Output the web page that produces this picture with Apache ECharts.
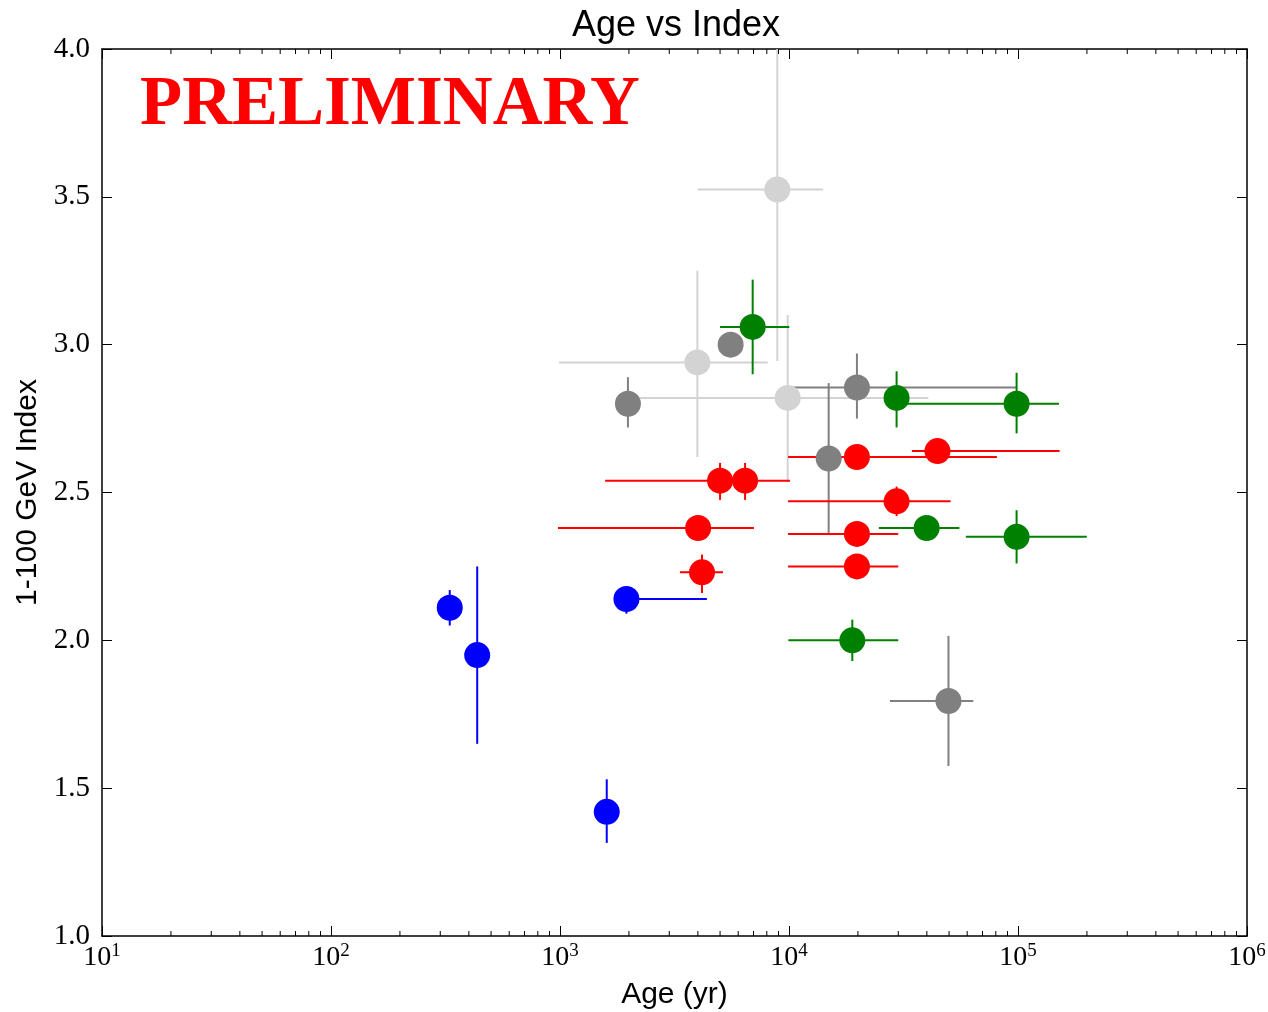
<!DOCTYPE html>
<html>
<head>
<meta charset="utf-8">
<script src="https://cdn.jsdelivr.net/npm/echarts@6/dist/echarts.min.js"></script>
<style>
  html, body { margin: 0; padding: 0; background: #fff; }
  #chart { width: 1268px; height: 1012px; }
</style>
</head>
<body>
<div id="chart"></div>
<script>
// Each row: [age (yr), index, ageLow, ageHigh, indexLow, indexHigh]
const lightGrayPts = [
  [8890, 3.525, 3990, 14100, 2.945, 4.10],
  [3980, 2.94, 990, 8070, 2.62, 3.25],
  [9870, 2.82, 2230, 40600, 2.535, 3.10]
];
const grayPts = [
  [1980, 2.80, 1980, 1980, 2.72, 2.89],
  [5560, 3.00, 5560, 5560, 3.00, 3.00],
  [19800, 2.855, 10000, 98600, 2.75, 2.97],
  [14900, 2.615, 14900, 14900, 2.36, 2.87],
  [49700, 1.795, 27600, 63800, 1.575, 2.015]
];
const redPts = [
  [4170, 2.23, 3340, 5150, 2.16, 2.29],
  [4010, 2.38, 980, 7030, 2.38, 2.38],
  [5000, 2.54, 1575, 10100, 2.475, 2.60],
  [6430, 2.54, 6430, 6430, 2.475, 2.60],
  [19800, 2.62, 9910, 80900, 2.62, 2.62],
  [44500, 2.64, 34400, 152000, 2.64, 2.64],
  [29500, 2.47, 9910, 50800, 2.42, 2.52],
  [19800, 2.36, 9910, 30000, 2.36, 2.36],
  [19800, 2.25, 9910, 30000, 2.25, 2.25]
];
const greenPts = [
  [6940, 3.06, 5000, 10030, 2.90, 3.22],
  [29500, 2.82, 29500, 29500, 2.72, 2.91],
  [98600, 2.80, 29500, 151000, 2.70, 2.905],
  [39900, 2.38, 24700, 55500, 2.38, 2.38],
  [98600, 2.35, 59200, 199700, 2.26, 2.44],
  [18900, 2.00, 9940, 30000, 1.93, 2.07]
];
const bluePts = [
  [330, 2.11, 330, 330, 2.05, 2.17],
  [435, 1.95, 435, 435, 1.65, 2.25],
  [1950, 2.14, 1740, 4380, 2.09, 2.18],
  [1600, 1.42, 1600, 1600, 1.315, 1.53]
];

const groupNames = ['lightgray', 'gray', 'red', 'green', 'blue'];
const groupColors = ['#d3d3d3', '#808080', '#ff0000', '#008000', '#0000ff'];
const groupData = [lightGrayPts, grayPts, redPts, greenPts, bluePts];

const xTickExponents = [1, 2, 3, 4, 5, 6];
const yTickLabels = ['1.0', '1.5', '2.0', '2.5', '3.0', '3.5', '4.0'];
const minorMantissas = [2, 3, 4, 5, 6, 7, 8, 9];

const minorTickValues = [];
for (let e = 1; e <= 5; e++) {
  minorMantissas.forEach(m => minorTickValues.push([m * Math.pow(10, e), 1]));
}

const serif = '"Liberation Serif", "DejaVu Serif", serif';
const sans = '"Liberation Sans", Arial, sans-serif';

function errRender(color) {
  return function (params, api) {
    const x = api.value(0), y = api.value(1);
    const xl = api.coord([api.value(2), y]);
    const xh = api.coord([api.value(3), y]);
    const yl = api.coord([x, api.value(4)]);
    const yh = api.coord([x, api.value(5)]);
    const cs = params.coordSys;
    const rect = { x: cs.x, y: cs.y, width: cs.width, height: cs.height };
    const children = [];
    function addLine(p1, p2) {
      if (Math.abs(p1[0] - p2[0]) < 0.5 && Math.abs(p1[1] - p2[1]) < 0.5) return;
      const pts = echarts.graphic.clipPointsByRect([p1, p2], rect);
      children.push({
        type: 'line',
        shape: { x1: pts[0][0], y1: pts[0][1], x2: pts[1][0], y2: pts[1][1] },
        style: { stroke: color, lineWidth: 2 }
      });
    }
    addLine(xl, xh);
    addLine(yl, yh);
    return { type: 'group', children: children };
  };
}

function minorTickRender(params, api) {
  const cs = params.coordSys;
  const p = api.coord([api.value(0), 1]);
  return {
    type: 'group',
    children: [
      { type: 'line', shape: { x1: p[0], y1: cs.y + cs.height, x2: p[0], y2: cs.y + cs.height - 5 }, style: { stroke: '#000', lineWidth: 1 } },
      { type: 'line', shape: { x1: p[0], y1: cs.y, x2: p[0], y2: cs.y + 5 }, style: { stroke: '#000', lineWidth: 1 } }
    ]
  };
}

const series = [{
  type: 'custom',
  name: 'minorTicks',
  xAxisIndex: 0, yAxisIndex: 0,
  renderItem: minorTickRender,
  data: minorTickValues,
  silent: true,
  z: 5
}];

groupData.forEach((rows, i) => {
  series.push({
    type: 'custom',
    name: groupNames[i] + '-err',
    xAxisIndex: 0, yAxisIndex: 0,
    renderItem: errRender(groupColors[i]),
    encode: { x: [0, 2, 3], y: [1, 4, 5] },
    data: rows,
    silent: true,
    z: 2
  });
  series.push({
    type: 'scatter',
    name: groupNames[i],
    xAxisIndex: 0, yAxisIndex: 0,
    data: rows.map(r => [r[0], r[1]]),
    symbol: 'circle',
    symbolSize: 26,
    itemStyle: { color: groupColors[i], opacity: 1 },
    z: 2
  });
});

const axisLineStyle = { show: true, lineStyle: { color: '#000', width: 1.5 } };
const majorTick = { show: true, inside: true, length: 10, lineStyle: { color: '#000', width: 1 } };

const option = {
  animation: false,
  backgroundColor: '#fff',
  title: {
    text: 'Age vs Index',
    left: 671,
    textAlign: 'center',
    top: 3,
    textStyle: { fontFamily: sans, fontSize: 36, fontWeight: 'normal', color: '#000' }
  },
  graphic: [{
    type: 'text',
    left: 140,
    top: 72,
    style: { text: 'PRELIMINARY', font: 'bold 69px "Liberation Serif"', fill: '#ff0000' },
    z: 100
  }],
  grid: { left: 102, right: 21, top: 49, bottom: 76, containLabel: false, outerBoundsMode: 'none' },
  xAxis: [{
    type: 'log', logBase: 10, min: 10, max: 1e6, position: 'bottom',
    axisLine: axisLineStyle, axisTick: majorTick, splitLine: { show: false },
    axisLabel: {
      margin: 6,
      formatter: v => {
        const e = Math.round(Math.log10(v));
        return xTickExponents.indexOf(e) >= 0 ? '{b|10}{s|' + e + '}' : '';
      },
      rich: {
        b: { fontFamily: serif, fontSize: 28, lineHeight: 32, color: '#000' },
        s: { fontFamily: serif, fontSize: 19, lineHeight: 19, verticalAlign: 'top', color: '#000' }
      }
    },
    name: 'Age (yr)', nameLocation: 'middle', nameGap: 44,
    nameTextStyle: { fontFamily: sans, fontSize: 30, color: '#000' }
  }, {
    type: 'log', logBase: 10, min: 10, max: 1e6, position: 'top',
    axisLine: axisLineStyle, axisTick: majorTick, splitLine: { show: false },
    axisLabel: { show: false }
  }],
  yAxis: [{
    type: 'value', min: 1, max: 4, interval: 0.5, position: 'left',
    axisLine: axisLineStyle, axisTick: majorTick, splitLine: { show: false },
    axisLabel: {
      margin: 12,
      formatter: v => yTickLabels[Math.round((v - 1) / 0.5)] || '',
      fontFamily: serif, fontSize: 29, color: '#000'
    },
    name: '1-100 GeV Index', nameLocation: 'middle', nameGap: 59, nameRotate: 90,
    nameTextStyle: { fontFamily: sans, fontSize: 30, color: '#000' }
  }, {
    type: 'value', min: 1, max: 4, interval: 0.5, position: 'right',
    axisLine: axisLineStyle, axisTick: majorTick, splitLine: { show: false },
    axisLabel: { show: false }
  }],
  series: series
};

const chart = echarts.init(document.getElementById('chart'), null, { renderer: 'canvas' });
chart.setOption(option);
</script>
</body>
</html>
